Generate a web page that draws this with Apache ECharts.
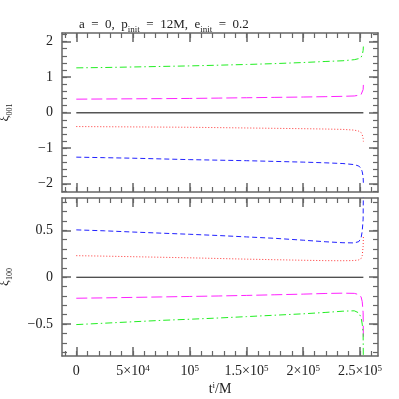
<!DOCTYPE html>
<html><head><meta charset="utf-8">
<script src="https://cdn.jsdelivr.net/npm/echarts@6/dist/echarts.min.js"></script>
<style>html,body{margin:0;padding:0;background:#fff}#c{width:399px;height:399px}</style>
</head><body><div id="c"></div>
<script>
// ---- data ----
const t = [0, 25000, 50000, 75000, 100000, 125000, 150000, 175000, 200000, 220000, 235000, 245000, 249000, 251000, 252000, 252800, 253000];
const zeroT = [0, 253000];
const zeroV = [0, 0];
// xi_001 panel
const top_green   = [1.26, 1.27, 1.285, 1.30, 1.315, 1.335, 1.355, 1.38, 1.41, 1.44, 1.46, 1.49, 1.52, 1.56, 1.62, 1.75, 1.86];
const top_magenta = [0.38, 0.385, 0.39, 0.395, 0.40, 0.41, 0.42, 0.43, 0.44, 0.45, 0.46, 0.47, 0.49, 0.51, 0.55, 0.65, 0.78];
const top_red     = [-0.39, -0.395, -0.40, -0.405, -0.41, -0.42, -0.43, -0.44, -0.45, -0.46, -0.47, -0.49, -0.52, -0.56, -0.62, -0.72, -0.81];
const top_blue    = [-1.25, -1.265, -1.28, -1.30, -1.32, -1.335, -1.35, -1.37, -1.39, -1.41, -1.43, -1.46, -1.50, -1.57, -1.66, -1.80, -1.97];
// xi_100 panel
const bot_blue    = [0.505, 0.495, 0.482, 0.47, 0.458, 0.445, 0.43, 0.415, 0.395, 0.378, 0.368, 0.366, 0.38, 0.42, 0.49, 0.62, 0.95];
const bot_red     = [0.23, 0.225, 0.219, 0.213, 0.207, 0.20, 0.193, 0.187, 0.181, 0.177, 0.176, 0.178, 0.185, 0.20, 0.23, 0.33, 0.43];
const bot_magenta = [-0.224, -0.22, -0.215, -0.21, -0.205, -0.20, -0.194, -0.187, -0.18, -0.173, -0.17, -0.172, -0.185, -0.21, -0.26, -0.38, -0.65];
const bot_green   = [-0.505, -0.49, -0.475, -0.46, -0.448, -0.435, -0.42, -0.405, -0.39, -0.375, -0.362, -0.358, -0.38, -0.43, -0.50, -0.60, -0.95];
// ticks
const xMajor = [0, 50000, 100000, 150000, 200000, 250000];
const xMajorLabels = ['0', '5×10{s|4}', '10{s|5}', '1.5×10{s|5}', '2×10{s|5}', '2.5×10{s|5}'];
const xMinorStep = 10000;
const topYMajor = [-2, -1, 0, 1, 2];
const topYLabels = ['−2', '−1', '0', '1', '2'];
const topYMinorStep = 0.2;
const botYMajor = [-0.5, 0, 0.5];
const botYLabels = ['−0.5', '0', '0.5'];
const botYMinorStep = 0.1;

// ---- layout ----
const XMIN = -12600, XMAX = 265900;
const TOPY = [-2.23, 2.24];
const BOTY = [-0.84, 0.845];
const FONT = 'Liberation Serif';
const FRAME = '#666';

function steps(a, b, s) {
  const out = [];
  const n0 = Math.ceil(a / s - 1e-9), n1 = Math.floor(b / s + 1e-9);
  for (let k = n0; k <= n1; k++) out.push(Math.round(k * s * 1e6) / 1e6);
  return out;
}
const xMinor = steps(XMIN, XMAX, xMinorStep);

function lab(vals, labels) {
  return function (v) {
    for (let i = 0; i < vals.length; i++) if (Math.abs(vals[i] - v) < 1e-6 * Math.max(1, Math.abs(v))) return labels[i];
    return '';
  };
}

const grids = [
  {left: 62, top: 33, width: 316, height: 159, outerBoundsMode: 'none', containLabel: false},
  {left: 62, top: 198, width: 316, height: 158, outerBoundsMode: 'none', containLabel: false}
];

const xAxes = [], yAxes = [];
for (let g = 0; g < 2; g++) {
  const common = {type: 'value', gridIndex: g, min: XMIN, max: XMAX, splitLine: {show: false}};
  ['bottom', 'top'].forEach(function (pos) {
    xAxes.push(Object.assign({}, common, {
      position: pos,
      axisLine: {show: true, onZero: false, lineStyle: {color: FRAME, width: 1.5}},
      axisTick: {show: true, inside: true, length: 9, customValues: xMajor, lineStyle: {color: FRAME, width: 1.5}},
      axisLabel: (g === 1 && pos === 'bottom') ? {
        show: true, customValues: xMajor, margin: 8, color: '#222', fontFamily: FONT, fontSize: 14,
        formatter: lab(xMajor, xMajorLabels),
        rich: {s: {fontSize: 9, fontFamily: FONT, color: '#222', verticalAlign: 'top', lineHeight: 15}}
      } : {show: false},
      name: (g === 1 && pos === 'bottom') ? '{a|t}{s|i}{a|/M}' : '',
      nameLocation: 'middle', nameGap: 25,
      nameTextStyle: {fontFamily: FONT, fontSize: 14, color: '#222',
        rich: {a: {fontFamily: FONT, fontSize: 14, color: '#222', lineHeight: 16},
               s: {fontFamily: FONT, fontSize: 9, color: '#222', verticalAlign: 'top', lineHeight: 16}}}
    }));
    xAxes.push(Object.assign({}, common, {
      position: pos,
      axisLine: {show: false, onZero: false},
      axisTick: {show: true, inside: true, length: 5, customValues: xMinor, lineStyle: {color: FRAME, width: 1.2}},
      axisLabel: {show: false}
    }));
  });
  const yr = g === 0 ? TOPY : BOTY;
  const yMaj = g === 0 ? topYMajor : botYMajor;
  const yLab = g === 0 ? topYLabels : botYLabels;
  const yMin = steps(yr[0], yr[1], g === 0 ? topYMinorStep : botYMinorStep);
  const ycommon = {type: 'value', gridIndex: g, min: yr[0], max: yr[1], splitLine: {show: false}};
  ['left', 'right'].forEach(function (pos) {
    yAxes.push(Object.assign({}, ycommon, {
      position: pos,
      axisLine: {show: true, onZero: false, lineStyle: {color: FRAME, width: 1.5}},
      axisTick: {show: true, inside: true, length: 9, customValues: yMaj, lineStyle: {color: FRAME, width: 1.5}},
      axisLabel: pos === 'left' ? {
        show: true, customValues: yMaj, margin: 9, color: '#222', fontFamily: FONT, fontSize: 14,
        formatter: lab(yMaj, yLab)
      } : {show: false},
      name: pos === 'left' ? (g === 0 ? '{x|ξ}{s|001}' : '{x|ξ}{s|100}') : '',
      nameLocation: 'middle', nameRotate: 90, nameGap: 48,
      nameTextStyle: {fontFamily: FONT, fontSize: 13, color: '#222',
        rich: {x: {fontFamily: FONT, fontSize: 13, color: '#222', lineHeight: 16, verticalAlign: 'top'},
               s: {fontFamily: FONT, fontSize: 8, color: '#222', lineHeight: 16, verticalAlign: 'bottom'}}}
    }));
    yAxes.push(Object.assign({}, ycommon, {
      position: pos,
      axisLine: {show: false, onZero: false},
      axisTick: {show: true, inside: true, length: 5, customValues: yMin, lineStyle: {color: FRAME, width: 1.2}},
      axisLabel: {show: false}
    }));
  });
}

function pairs(xs, ys) { return xs.map(function (x, i) { return [x, ys[i]]; }); }
function line(g, xs, ys, color, type, width) {
  return {
    type: 'line', xAxisIndex: g * 4, yAxisIndex: g * 4, data: pairs(xs, ys),
    showSymbol: false, symbol: 'none', clip: true, animation: false,
    lineStyle: {color: color, width: width || 1, type: type}
  };
}
const GREEN = '#22ee22', MAG = '#ff22ff', RED = '#ff3333', BLUE = '#2222ff';
const DASHDOT = [7, 3, 1.5, 3], LONG = [11, 4], SHORT = [5, 3], DOT = [1, 2];

const series = [
  line(0, zeroT, zeroV, '#555', 'solid', 1.5),
  line(0, t, top_green, GREEN, DASHDOT),
  line(0, t, top_magenta, MAG, LONG),
  line(0, t, top_red, RED, DOT),
  line(0, t, top_blue, BLUE, SHORT),
  line(1, zeroT, zeroV, '#111', 'solid', 1),
  line(1, t, bot_blue, BLUE, SHORT),
  line(1, t, bot_red, RED, DOT),
  line(1, t, bot_magenta, MAG, LONG),
  line(1, t, bot_green, GREEN, DASHDOT)
];

const chart = echarts.init(document.getElementById('c'), null, {renderer: 'canvas'});
chart.setOption({
  animation: false,
  backgroundColor: '#fff',
  title: {
    text: '{n|a  =  0,  p}{s|init}{n|  =  12M,  e}{s|init}{n|  =  0.2}',
    left: 74, top: 13,
    textStyle: {fontFamily: FONT, fontSize: 13, fontWeight: 'normal', color: '#222',
      rich: {n: {fontFamily: FONT, fontSize: 13, color: '#222', lineHeight: 16, verticalAlign: 'top'},
             s: {fontFamily: FONT, fontSize: 9, color: '#222', lineHeight: 16, verticalAlign: 'bottom'}}}
  },
  grid: grids,
  xAxis: xAxes,
  yAxis: yAxes,
  series: series
});
</script>
</body></html>
